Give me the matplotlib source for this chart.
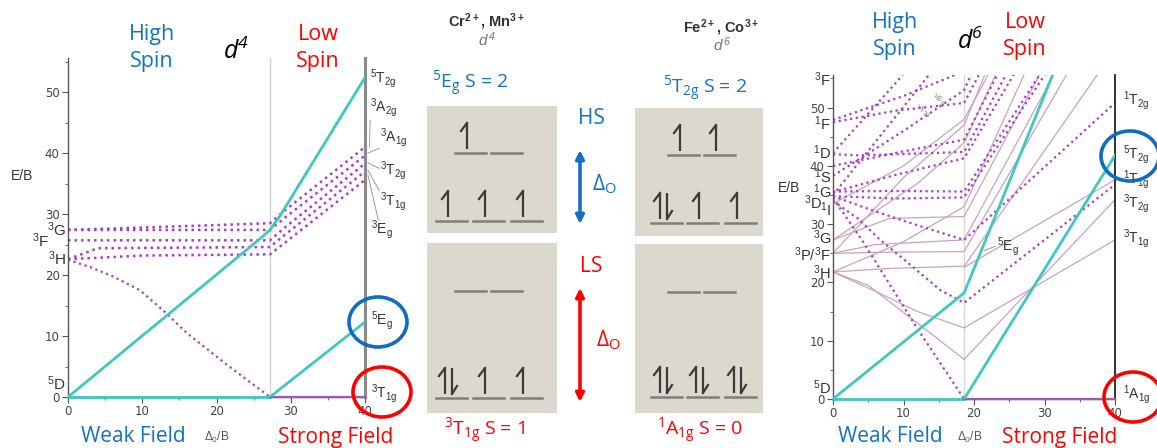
import matplotlib
matplotlib.use("Agg")
import matplotlib.pyplot as plt
from matplotlib.patches import Ellipse, Rectangle
from matplotlib.ticker import MultipleLocator

W, H = 1157, 448
BLUE = "#1273c4"
RED = "#ff0000"
CYAN = "#3ec8c0"
PURPLE = "#a83cc8"
MAUVE = "#c9a3bd"
GROUND = "#9a5bb0"
TITLE_FONT = "Open Sans"
ARIAL = "Liberation Sans"

# ---------------- d4 Tanabe-Sugano data ----------------
d4_break = 27.2
d4_5T2g_x = [0, 26.0, 27.2, 28.6, 40]
d4_5T2g_y = [0, 26.1, 27.4, 29.8, 52.4]
d4_5Eg_x = [d4_break, 40]
d4_5Eg_y = [0, 12.3]
d4_fall_x = [0, 3, 6, 9.7, 13, 16, 21.5, 27.2]
d4_fall_y = [22.5, 21.3, 19.8, 17.5, 14.0, 10.5, 5.2, 0]
d4_triplet_x = [[0, 10, 27.2, 29, 40],
                [0, 10, 27.2, 29, 40],
                [0, 10, 27.2, 29, 40],
                [0, 4, 27.2, 29, 40],
                [0, 10, 27.2, 29, 40]]
d4_triplet_y = [[27.4, 27.8, 28.5, 30.4, 41.0],
                [27.4, 27.4, 27.4, 29.2, 39.6],
                [25.7, 25.7, 25.7, 27.6, 38.3],
                [22.6, 24.4, 24.6, 26.4, 37.0],
                [22.6, 23.2, 23.4, 25.1, 35.6]]
d4_left_terms = [("$\\mathregular{^3G}$", 27.4, 66), ("$\\mathregular{^3F}$", 25.7, 49),
                 ("$\\mathregular{^3H}$", 22.6, 66), ("$\\mathregular{^5D}$", 2.2, 66)]
d4_right_terms = [("$\\mathregular{^5T_{2g}}$", 52.3, 40.7), ("$\\mathregular{^3A_{2g}}$", 47.4, 40.7),
                  ("$\\mathregular{^3A_{1g}}$", 42.5, 42.0), ("$\\mathregular{^3T_{2g}}$", 37.2, 42.0),
                  ("$\\mathregular{^3T_{1g}}$", 32.0, 42.0), ("$\\mathregular{^3E_g}$", 27.4, 40.8),
                  ("$\\mathregular{^5E_g}$", 12.6, 40.8), ("$\\mathregular{^3T_{1g}}$", 0.6, 40.8)]
d4_leaders = [([40.7, 40.6], [45.4, 41.0]), ([40.4, 41.9], [40.0, 40.8]),
              ([40.4, 41.9], [38.4, 37.5]), ([40.4, 41.9], [37.2, 33.9]),
              ([40.4, 41.8], [36.4, 29.0])]

# ---------------- d6 Tanabe-Sugano data ----------------
d6_break = 18.6
d6_hs_x = [0, d6_break, 40]
d6_hs_y = [0, 18.2, 82]
d6_ls_x = [d6_break, 40]
d6_ls_y = [0, 41.8]
d6_dotted = [
    ([0, 4.1, 11.9, 18.6], [34.5, 27.3, 12.2, 0]),
    ([0, 3.5, 6.7, 11, 15.2, 18.6, 40], [34.0, 31.0, 27.3, 23.0, 18.7, 16.5, 36.8]),
    ([0, 6, 12, 18.6, 40], [34.8, 32.2, 29.8, 27.3, 50.8]),
    ([0, 9, 18.6, 40], [35.6, 35.7, 35.6, 75.7]),
    ([0, 9, 18.6, 40], [34.8, 34.4, 34.6, 74.0]),
    ([0, 9, 18.6, 40], [35.5, 38.5, 41.3, 85.0]),
    ([0, 4, 18.6, 40], [42.0, 41.8, 42.4, 90.0]),
    ([0, 10, 18.6, 40], [40.0, 42.5, 44.5, 95.0]),
    ([0, 9, 18.6, 40], [47.5, 49.5, 50.8, 100.0]),
    ([0, 10, 17.5, 40], [47.9, 52.0, 55.7, 70.0]),
    ([0, 10, 18.6, 40], [38.3, 46.0, 53.0, 110.0]),
    ([0, 13.8], [35.0, 55.9]),
    ([0, 9.9], [42.2, 55.6]),
]
d6_solid = [
    ([0, 6, 12, 18.6, 40], [21.8, 18.5, 15.0, 12.2, 27.3]),
    ([0, 5, 12, 18.6, 40], [21.8, 19.5, 13.0, 6.8, 34.2]),
    ([0, 8, 18.6, 40], [21.8, 22.4, 22.8, 60.0]),
    ([0, 8, 18.6, 40], [25.0, 25.2, 25.3, 70.0]),
    ([0, 6, 18.6, 40], [25.0, 26.5, 27.3, 75.0]),
    ([0, 8, 18.6, 40], [27.3, 31.0, 31.3, 80.0]),
    ([0, 10, 18.6, 40], [21.8, 27.0, 33.0, 90.0]),
    ([0, 12, 18.6, 40], [27.3, 37.0, 44.0, 100.0]),
    ([0, 10, 18.6, 40], [25.0, 38.0, 47.0, 110.0]),
    ([18.6, 40], [22.6, 37.6]),
    ([0, 10, 18.6, 40], [33.5, 40.0, 48.0, 96.0]),
]
d6_left_terms = [("$\\mathregular{^3F}$", 54.7, 831), ("$\\mathregular{^1F}$", 47.3, 831),
                 ("$\\mathregular{^1D}$", 42.2, 831), ("$\\mathregular{^1S}$", 38.1, 831),
                 ("$\\mathregular{^1G}$", 35.5, 831), ("$\\mathregular{^3D}$", 33.6, 822),
                 ("$\\mathregular{^1I}$", 32.4, 831), ("$\\mathregular{^3G}$", 27.6, 831),
                 ("$\\mathregular{^3P/^3F}$", 24.7, 831), ("$\\mathregular{^3H}$", 21.6, 831),
                 ("$\\mathregular{^5D}$", 1.9, 831)]
d6_right_terms = [("$\\mathregular{^1T_{2g}}$", 51.3), ("$\\mathregular{^5T_{2g}}$", 41.9),
                  ("$\\mathregular{^1T_{1g}}$", 37.6), ("$\\mathregular{^3T_{2g}}$", 33.6),
                  ("$\\mathregular{^3T_{1g}}$", 27.6), ("$\\mathregular{^1A_{1g}}$", 0.7)]

# ---------------- orbital occupancies (eg, t2g) ----------------
d4_hs_eg, d4_hs_t2g = [1, 0], [1, 1, 1]
d4_ls_eg, d4_ls_t2g = [0, 0], [2, 1, 1]
d6_hs_eg, d6_hs_t2g = [1, 1], [2, 1, 1]
d6_ls_eg, d6_ls_t2g = [0, 0], [2, 2, 2]

fig = plt.figure(figsize=(W / 100, H / 100), dpi=100)


def style_tsd(ax, right_color, right_lw):
    ax.set_xlim(0, 40)
    ax.set_ylim(0, 55.6)
    ax.spines["top"].set_visible(False)
    ax.spines["right"].set_color(right_color)
    ax.spines["right"].set_linewidth(right_lw)
    for s in ("left", "bottom"):
        ax.spines[s].set_color("#555555")
        ax.spines[s].set_linewidth(1.0)
    ax.xaxis.set_major_locator(MultipleLocator(10))
    ax.xaxis.set_minor_locator(MultipleLocator(5))
    ax.yaxis.set_major_locator(MultipleLocator(10))
    ax.yaxis.set_minor_locator(MultipleLocator(5))
    ax.tick_params(which="both", direction="out", color="#555555", labelsize=8.5,
                   labelcolor="#444444", pad=2)
    ax.tick_params(which="major", length=4)
    ax.tick_params(which="minor", length=2.5)
    ax.set_facecolor("none")


# ---- d4 panel ----
ax4 = fig.add_axes([68 / W, 1 - 397 / H, 297 / W, 339 / H])
style_tsd(ax4, "#8a8a8a", 2.2)
ax4.axvline(d4_break, color="#d4d4d4", lw=1)
for xs, ys in zip(d4_triplet_x, d4_triplet_y):
    ax4.plot(xs, ys, color=PURPLE, lw=1.8, ls=(0, (1, 1.6)))
ax4.plot(d4_fall_x, d4_fall_y, color=PURPLE, lw=1.6, ls=(0, (1, 1.6)))
ax4.plot([0, d4_break], [0, 0], color=CYAN, lw=2, clip_on=False, zorder=4)
ax4.plot([d4_break, 40], [0, 0], color=GROUND, lw=1.6, clip_on=False, zorder=4)
ax4.plot(d4_5T2g_x, d4_5T2g_y, color=CYAN, lw=2, zorder=5)
ax4.plot(d4_5Eg_x, d4_5Eg_y, color=CYAN, lw=2, zorder=5)
for xs, ys in d4_leaders:
    ax4.plot(xs, ys, color="#9a9a9a", lw=0.7, clip_on=False)
for lab, y, px in d4_left_terms:
    fig.text(px / W, 1 - (397 - y * 6.1) / H, lab, ha="right", va="center",
             fontsize=11, family=ARIAL, color="#333333")
for lab, y, x in d4_right_terms:
    ax4.text(x, y, lab, ha="left", va="center", fontsize=10, family=ARIAL,
             color="#333333", clip_on=False)

# ---- d6 panel ----
ax6 = fig.add_axes([833 / W, 1 - 399 / H, 282 / W, 324 / H])
style_tsd(ax6, "#222222", 1.3)
ax6.axvline(d6_break, color="#d8d8d8", lw=1)
for xs, ys in d6_solid:
    ax6.plot(xs, ys, color=MAUVE, lw=0.9)
for xs, ys in d6_dotted:
    ax6.plot(xs, ys, color=PURPLE, lw=1.6, ls=(0, (1, 1.6)))
ax6.plot([0, d6_break], [0, 0], color=CYAN, lw=2, clip_on=False, zorder=4)
ax6.plot([d6_break, 40], [0, 0], color=GROUND, lw=1.6, clip_on=False, zorder=4)
ax6.plot(d6_hs_x, d6_hs_y, color=CYAN, lw=2, zorder=5)
ax6.plot(d6_ls_x, d6_ls_y, color=CYAN, lw=2, zorder=5)
ax6.plot([21.5, 23.0], [25.5, 26.2], color="#9a9a9a", lw=0.7)
ax6.text(23.3, 26.2, "$\\mathregular{^5E_g}$", fontsize=10, family=ARIAL,
         color="#333333", va="center")
ax6.text(11.3, 49.3, "$\\mathregular{^1T_{2g}}$", fontsize=6, family=ARIAL,
         color="#777777", rotation=-20, va="center")
ax6.text(13.8, 51.2, "$\\mathregular{^1E_g}$", fontsize=6, family=ARIAL,
         color="#777777", rotation=-20, va="center")
for lab, y, px in d6_left_terms:
    fig.text(px / W, 1 - (399 - y * 5.83) / H, lab, ha="right", va="center",
             fontsize=10.5, family=ARIAL, color="#333333")
for lab, y in d6_right_terms:
    ax6.text(41.1, y, lab, ha="left", va="center", fontsize=10, family=ARIAL,
             color="#333333", clip_on=False)

# ---- overlay in pixel coordinates ----
ov = fig.add_axes([0, 0, 1, 1])
ov.set_xlim(0, W)
ov.set_ylim(H, 0)
ov.axis("off")

ov.text(22, 176, "E/B", fontsize=10, family=ARIAL, color="#333333", ha="center", va="center")
ov.text(789, 188, "E/B", fontsize=10, family=ARIAL, color="#333333", ha="center", va="center")
for cx in (217, 970):
    ov.text(cx, 437, "Δ$\\mathregular{_0}$/B", fontsize=8.5, family=ARIAL,
            color="#555555", ha="center", va="center")

# titles
for cx, txt, col in ((152, "High\nSpin", BLUE), (318, "Low\nSpin", RED),
                     (895, "High\nSpin", BLUE), (1025, "Low\nSpin", RED)):
    y0 = 48 if cx < 600 else 36
    ov.text(cx, y0, txt, fontsize=15.5, family=TITLE_FONT, color=col,
            ha="center", va="center", linespacing=1.35)
ov.text(236, 52, "$\\mathregular{d^4}$", fontsize=18, family=TITLE_FONT, style="italic",
        color="black", ha="center", va="center")
ov.text(970, 42, "$\\mathregular{d^6}$", fontsize=18, family=TITLE_FONT, style="italic",
        color="black", ha="center", va="center")
ov.text(133, 437, "Weak Field", fontsize=15, family=TITLE_FONT, color=BLUE, ha="center", va="center")
ov.text(336, 437, "Strong Field", fontsize=15, family=TITLE_FONT, color=RED, ha="center", va="center")
ov.text(890, 437, "Weak Field", fontsize=15, family=TITLE_FONT, color=BLUE, ha="center", va="center")
ov.text(1060, 437, "Strong Field", fontsize=15, family=TITLE_FONT, color=RED, ha="center", va="center")

# circles
for (cx, cy), col in (((378, 322), "#0f6cc0"), ((382, 392), RED),
                      ((1130, 156), "#0f6cc0"), ((1133, 397), RED)):
    ov.add_patch(Ellipse((cx, cy), 58, 50, fill=False, ec=col, lw=2.6))

# middle panel headers
ov.text(487, 22, "Cr$\\mathregular{^{2+}}$, Mn$\\mathregular{^{3+}}$", fontsize=10.5,
        family=ARIAL, weight="bold", color="#333333", ha="center", va="center")
ov.text(487, 40, "$\\mathregular{d^{\\,4}}$", fontsize=11, family=ARIAL, style="italic",
        color="#777777", ha="center", va="center")
ov.text(721, 28, "Fe$\\mathregular{^{2+}}$, Co$\\mathregular{^{3+}}$", fontsize=10.5,
        family=ARIAL, weight="bold", color="#333333", ha="center", va="center")
ov.text(722, 45, "$\\mathregular{d^{\\,6}}$", fontsize=11, family=ARIAL, style="italic",
        color="#777777", ha="center", va="center")

ov.text(470, 84, "$\\mathregular{^5E_g}$ S = 2", fontsize=14, family=TITLE_FONT,
        color=BLUE, ha="center", va="center")
ov.text(705, 89, "$\\mathregular{^5T_{2g}}$ S = 2", fontsize=14, family=TITLE_FONT,
        color=BLUE, ha="center", va="center")
ov.text(485, 431, "$\\mathregular{^3T_{1g}}$ S = 1", fontsize=14, family=TITLE_FONT,
        color=RED, ha="center", va="center")
ov.text(700, 431, "$\\mathregular{^1A_{1g}}$ S = 0", fontsize=14, family=TITLE_FONT,
        color=RED, ha="center", va="center")
ov.text(591, 118, "HS", fontsize=15, family=TITLE_FONT, color=BLUE, ha="center", va="center")
ov.text(591, 267, "LS", fontsize=15, family=TITLE_FONT, color=RED, ha="center", va="center")
ov.text(604, 184, "Δ$\\mathregular{_O}$", fontsize=15, family=TITLE_FONT, color=BLUE,
        ha="center", va="center")
ov.text(608, 340, "Δ$\\mathregular{_O}$", fontsize=15, family=TITLE_FONT, color=RED,
        ha="center", va="center")
ov.annotate("", xy=(580, 150), xytext=(580, 224),
            arrowprops=dict(arrowstyle="<|-|>", color="#1570c0", lw=2.6, mutation_scale=12,
                            shrinkA=0, shrinkB=0))
ov.annotate("", xy=(580, 288), xytext=(580, 402),
            arrowprops=dict(arrowstyle="<|-|>", color=RED, lw=2.6, mutation_scale=12,
                            shrinkA=0, shrinkB=0))


def electron(x, yline, up):
    top, bot = yline - 30, yline - 4
    if up:
        ov.plot([x, x], [bot, top], color="#3a3a3a", lw=1.6, solid_capstyle="butt")
        ov.plot([x, x - 6], [top, top + 8], color="#3a3a3a", lw=1.6)
    else:
        ov.plot([x, x], [top, bot], color="#3a3a3a", lw=1.6, solid_capstyle="butt")
        ov.plot([x, x + 5], [bot, bot - 8], color="#3a3a3a", lw=1.6)


def orbital_box(x0, y0, x1, y1, eg_left, eg_y, t2g_left, t2g_y, eg, t2g):
    ov.add_patch(Rectangle((x0, y0), x1 - x0, y1 - y0, color="#ddd8cd", lw=0))
    for lefts, yl, occ in ((eg_left, eg_y, eg), (t2g_left, t2g_y, t2g)):
        for lx, n in zip(lefts, occ):
            ov.plot([lx, lx + 31], [yl, yl], color="#7e7e7e", lw=1.8)
            if n == 1:
                electron(lx + 12, yl, True)
            elif n == 2:
                electron(lx + 9, yl, True)
                electron(lx + 16, yl, False)


orbital_box(427, 106, 557, 233, [455, 491], 153, [436, 473, 511], 221, d4_hs_eg, d4_hs_t2g)
orbital_box(427, 243, 557, 413, [455, 491], 291, [436, 473, 511], 398, d4_ls_eg, d4_ls_t2g)
orbital_box(635, 108, 763, 236, [668, 704], 155, [651, 687, 725], 223, d6_hs_eg, d6_hs_t2g)
orbital_box(635, 244, 763, 413, [668, 704], 292, [651, 687, 725], 397, d6_ls_eg, d6_ls_t2g)

fig.savefig("out.png", dpi=100)
